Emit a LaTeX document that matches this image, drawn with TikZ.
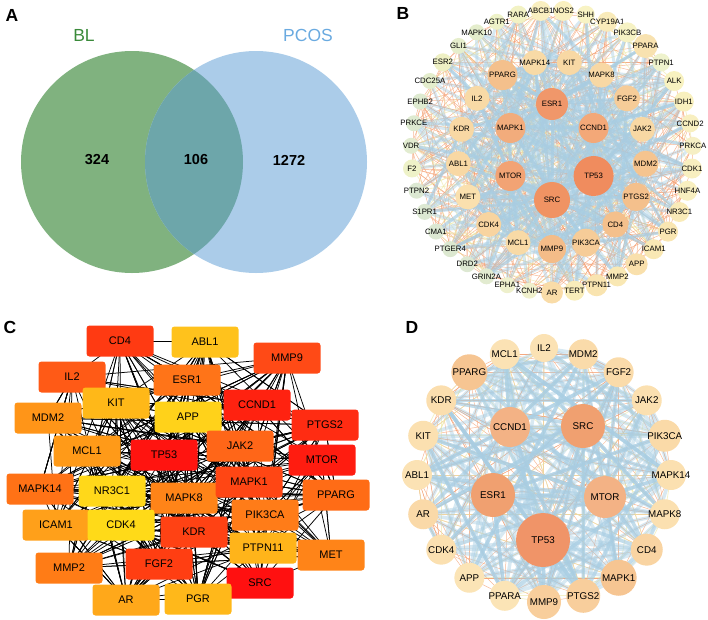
\documentclass[tikz,border=0pt]{standalone}
\usepackage{fontspec}
\setmainfont{Liberation Sans}
\usetikzlibrary{positioning}
\pgfdeclarelayer{links}
\pgfsetlayers{links,main}
\definecolor{vgreen}{HTML}{80B27F}
\definecolor{vblue}{HTML}{ABCCE9}
\definecolor{vmix}{HTML}{6DA6AA}
\definecolor{bltext}{HTML}{3A8A3A}
\definecolor{pcostext}{HTML}{6AAAE0}
\definecolor{netblue}{HTML}{A9CEE3}
\definecolor{netorange}{HTML}{F4A276}
\definecolor{netyellow}{HTML}{EDE8A6}

\begin{document}
\begin{tikzpicture}[x=1pt,y=-1pt,
panel/.style={font=\fontsize{17.5}{18}\selectfont\bfseries},
vnum/.style={font=\fontsize{14.5}{16}\selectfont\bfseries},
vset/.style={font=\fontsize{17.5}{18}\selectfont},
bnode/.style={circle, inner sep=0pt},
blabel/.style={font=\fontsize{7.8}{8}\selectfont, inner sep=0pt},
dlabel/.style={font=\fontsize{9.8}{10}\selectfont, inner sep=0pt},
cbox/.style={rectangle, rounded corners=3pt, minimum width=67, minimum height=31, inner sep=0pt, font=\fontsize{11}{12}\selectfont},
bluelink/.style={netblue, line width=3pt, opacity=.45},
orangelink/.style={netorange, line width=.5pt, opacity=.75},
yellowlink/.style={netyellow, line width=.8pt, opacity=.6},
blacklink/.style={black, line width=.75pt}]
\useasboundingbox (0,0) rectangle (708,619);

% A: venn
\fill[vgreen] (132,162) circle (111);
\fill[vblue] (256,162) circle (111);
\begin{scope}
\clip (132,162) circle (111);
\fill[vmix] (256,162) circle (111);
\end{scope}
\node[panel] (la) at (12,15) {A};
\node[vset, text=bltext] (bl) at (84,35) {BL};
\node[vset, text=pcostext] (pcos) at (308,35) {PCOS};
\node[vnum] (onlybl) at (97,160) {324};
\node[vnum] (both) at (196,160) {106};
\node[vnum] (onlypcos) at (289,160) {1272};

% B: whole network
\node[panel] (lb) at (403,13) {B};
\foreach \n/\a/\r/\c [count=\i] in {ESR1/90/16/F0976A, CCND1/30/15/F3A878, TP53/-30/20/F08C5E, SRC/-90/18/F09363, MTOR/-150/15/F2A374, MAPK1/150/15/F2AC7C}{
  \definecolor{fillc}{HTML}{\c}
  \node[bnode, fill=fillc, minimum size=2*\r, label={[blabel]center:\n}] (b\n) [alias=bn\i] at ({552+48*cos(\a)},{152-48*sin(\a)}) {};
}
\foreach \n/\r/\c [count=\i from 0] in {MMP9/14/F4BC88, PIK3CA/14/F6CC98, CD4/13/F4C08C, PTGS2/14/F4C08C, MDM2/13/F5C48F, JAK2/12.5/F8D8A4, FGF2/13/F6CC98, MAPK8/12.5/F8D8A4, KIT/12.5/F8D8A4, MAPK14/12.5/F8DAA6, PPARG/15/F4C08C, IL2/12.5/F8DAA6, KDR/12.5/F8D8A4, ABL1/12.5/F8D8A4, MET/12.5/FAE0AE, CDK4/12.5/F8D4A0, MCL1/12.5/F8DAA6}{
  \definecolor{fillc}{HTML}{\c}
  \pgfmathtruncatemacro\j{\i+7}
  \node[bnode, fill=fillc, minimum size=2*\r, label={[blabel]center:\n}] (b\n) [alias=bn\j] at ({552+94*cos(-90+\i*21.176)},{155-94*sin(-90+\i*21.176)}) {};
}
\foreach \n/\r/\c [count=\i from 0] in {ABCB1/10/F9EFC0, NOS2/10/F9F0C0, SHH/9/F8F3C4, CYP19A1/10/F9EBBA, PIK3CB/10/F6F2C4, PPARA/12/F8E2B0, PTPN1/9/EEF2CC, ALK/10/F8F2C0, IDH1/10/F8F0BE, CCND2/9/F8EFC0, PRKCA/9/F6EFC4, CDK1/10/F8EFC0, HNF4A/10/F8EFC0, NR3C1/10/F9EBB8, PGR/10/F9E6B2, ICAM1/10/F9E8B4, APP/11/F9E0AC, MMP2/10/F9E8B4, PTPN11/11/F9E4B0, TERT/10/F9EDBA, AR/11/F9DCA8, KCNH2/8/F0F0CC, EPHA1/8/EEF0CC, GRIN2A/8/E2EBD0, DRD2/8/DDE8D2, PTGER4/8/DCE8D0, CMA1/8/DCE8D2, S1PR1/8/DCE8D2, PTPN2/8/DCE8D2, F2/9/EEF2C8, VDR/8/E2ECD0, PRKCE/8/DEEAD0, EPHB2/8/DEEAD0, CDC25A/8/E4EDCC, ESR2/9/EEF0C4, GLI1/8/E6EECC, MAPK10/8/E4EDCC, AGTR1/8/EEF2C8, RARA/9/F2F2C4}{
  \definecolor{fillc}{HTML}{\c}
  \pgfmathtruncatemacro\j{\i+24}
  \node[bnode, fill=fillc, minimum size=2*\r, label={[blabel]center:\n}] (b\n) [alias=bn\j] at ({552+141*cos(94.6-\i*9.2308)},{151.5-141*sin(94.6-\i*9.2308)}) {};
}
\begin{pgfonlayer}{links}
\pgfmathsetseed{5}
\foreach \k in {1,...,380}{
  \pgfmathrandominteger{\ea}{1}{62}
  \pgfmathrandominteger{\eb}{1}{62}
  \ifnum\ea=\eb\else\path (bn\ea.center) edge[orangelink] (bn\eb.center);\fi
}
\foreach \k in {1,...,90}{
  \pgfmathrandominteger{\ea}{1}{62}
  \pgfmathrandominteger{\eb}{1}{62}
  \ifnum\ea=\eb\else\path (bn\ea.center) edge[yellowlink] (bn\eb.center);\fi
}
\foreach \s in {1,...,23}{
  \foreach \k in {1,...,10}{
    \pgfmathrandominteger{\eb}{1}{62}
    \ifnum\s=\eb\else\path (bn\s.center) edge[bluelink] (bn\eb.center);\fi
  }
}
\foreach \s in {1,...,6}{
  \foreach \k in {1,...,18}{
    \pgfmathrandominteger{\eb}{7}{62}
    \path (bn\s.center) edge[bluelink] (bn\eb.center);
  }
}
\end{pgfonlayer}

% C: hub genes
\node[panel] (lc) at (10,327) {C};
\foreach \n/\x/\y/\c [count=\i] in {CD4/120/341/FF3A12, ABL1/205/342/FFC21C, MMP9/287/358/FF4A16, IL2/72/377/FF5A16, ESR1/187/380/FF7418, KIT/116/403/FFB818, CCND1/257/405/FF2210, MDM2/48/418/FF9518, APP/188/417/FFD21A, PTGS2/325/425/FF2C12, MCL1/87/451/FF9A18, TP53/164/455/FF1410, JAK2/240/446/FF6618, MTOR/322/460/FF1C10, MAPK14/40/489/FF7216, NR3C1/112/491/FFD81A, MAPK8/184/498/FF8418, MAPK1/249/482/FF4614, PPARG/336/495/FF6C16, ICAM1/56/525/FFA01A, CDK4/121/525/FFDA18, PIK3CA/265/515/FF7C18, KDR/194/532/FF4214, PTPN11/263/548/FFB41A, MET/331/555/FF8418, MMP2/69/568/FF7C16, FGF2/159/564/FF3E12, SRC/260/583/FF1010, AR/126/600/FFA81A, PGR/198/599/FFB81A}{
  \definecolor{fillc}{HTML}{\c}
  \node[cbox, fill=fillc] (c\n) [alias=cn\i] at (\x,\y) {\n};
}
\begin{pgfonlayer}{links}
\pgfmathsetseed{17}
\foreach \k in {1,...,450}{
  \pgfmathrandominteger{\ea}{1}{30}
  \pgfmathrandominteger{\eb}{1}{30}
  \ifnum\ea=\eb\else\path (cn\ea.center) edge[blacklink] (cn\eb.center);\fi
}
\end{pgfonlayer}

% D: core network
\node[panel] (ld) at (412,327) {D};
\foreach \n/\x/\y/\r/\c [count=\i] in {CCND1/510/427/20/F3B285, SRC/583/426/22/F0A070, ESR1/493/495/22/F0A070, MTOR/605/497/21/F3B285, TP53/543/540/27/F09468}{
  \definecolor{fillc}{HTML}{\c}
  \node[bnode, fill=fillc, minimum size=2*\r, label={[dlabel]center:\n}] (d\n) [alias=dn\i] at (\x,\y) {};
}
\foreach \n/\r/\c [count=\i from 0] in {IL2/14/FBE2B4, MDM2/15/FADBAA, FGF2/15/FADBAA, JAK2/15/FBE0B0, PIK3CA/16/FADAA8, MAPK14/15/FBE0B0, MAPK8/15/FBE0B0, CD4/16/F9D4A2, MAPK1/18/F6C592, PTGS2/17/F8CE9C, MMP9/17/F8CE9C, PPARA/15/FBE4B6, APP/15/FBE4B6, CDK4/15/FBE0B0, AR/15/FAD9A8, ABL1/15/FBE2B4, KIT/15/FBE0B0, KDR/15/FBDEAE, PPARG/18/F6C592, MCL1/15/FBE2B4}{
  \definecolor{fillc}{HTML}{\c}
  \pgfmathtruncatemacro\j{\i+6}
  \node[bnode, fill=fillc, minimum size=2*\r, label={[dlabel]center:\n}] (d\n) [alias=dn\j] at ({544+127*cos(90-\i*18)},{475-127*sin(90-\i*18)}) {};
}
\begin{pgfonlayer}{links}
\pgfmathsetseed{23}
\foreach \k in {1,...,170}{
  \pgfmathrandominteger{\ea}{1}{25}
  \pgfmathrandominteger{\eb}{1}{25}
  \ifnum\ea=\eb\else\path (dn\ea.center) edge[orangelink] (dn\eb.center);\fi
}
\foreach \k in {1,...,60}{
  \pgfmathrandominteger{\ea}{1}{25}
  \pgfmathrandominteger{\eb}{1}{25}
  \ifnum\ea=\eb\else\path (dn\ea.center) edge[yellowlink] (dn\eb.center);\fi
}
\foreach \s in {1,...,25}{
  \foreach \k in {1,...,6}{
    \pgfmathrandominteger{\eb}{1}{25}
    \ifnum\s=\eb\else\path (dn\s.center) edge[bluelink, line width=3.5pt] (dn\eb.center);\fi
  }
}
\foreach \s in {1,...,5}{
  \foreach \k in {1,...,14}{
    \pgfmathrandominteger{\eb}{6}{25}
    \path (dn\s.center) edge[bluelink, line width=3.5pt] (dn\eb.center);
  }
}
\end{pgfonlayer}
\end{tikzpicture}
\end{document}
